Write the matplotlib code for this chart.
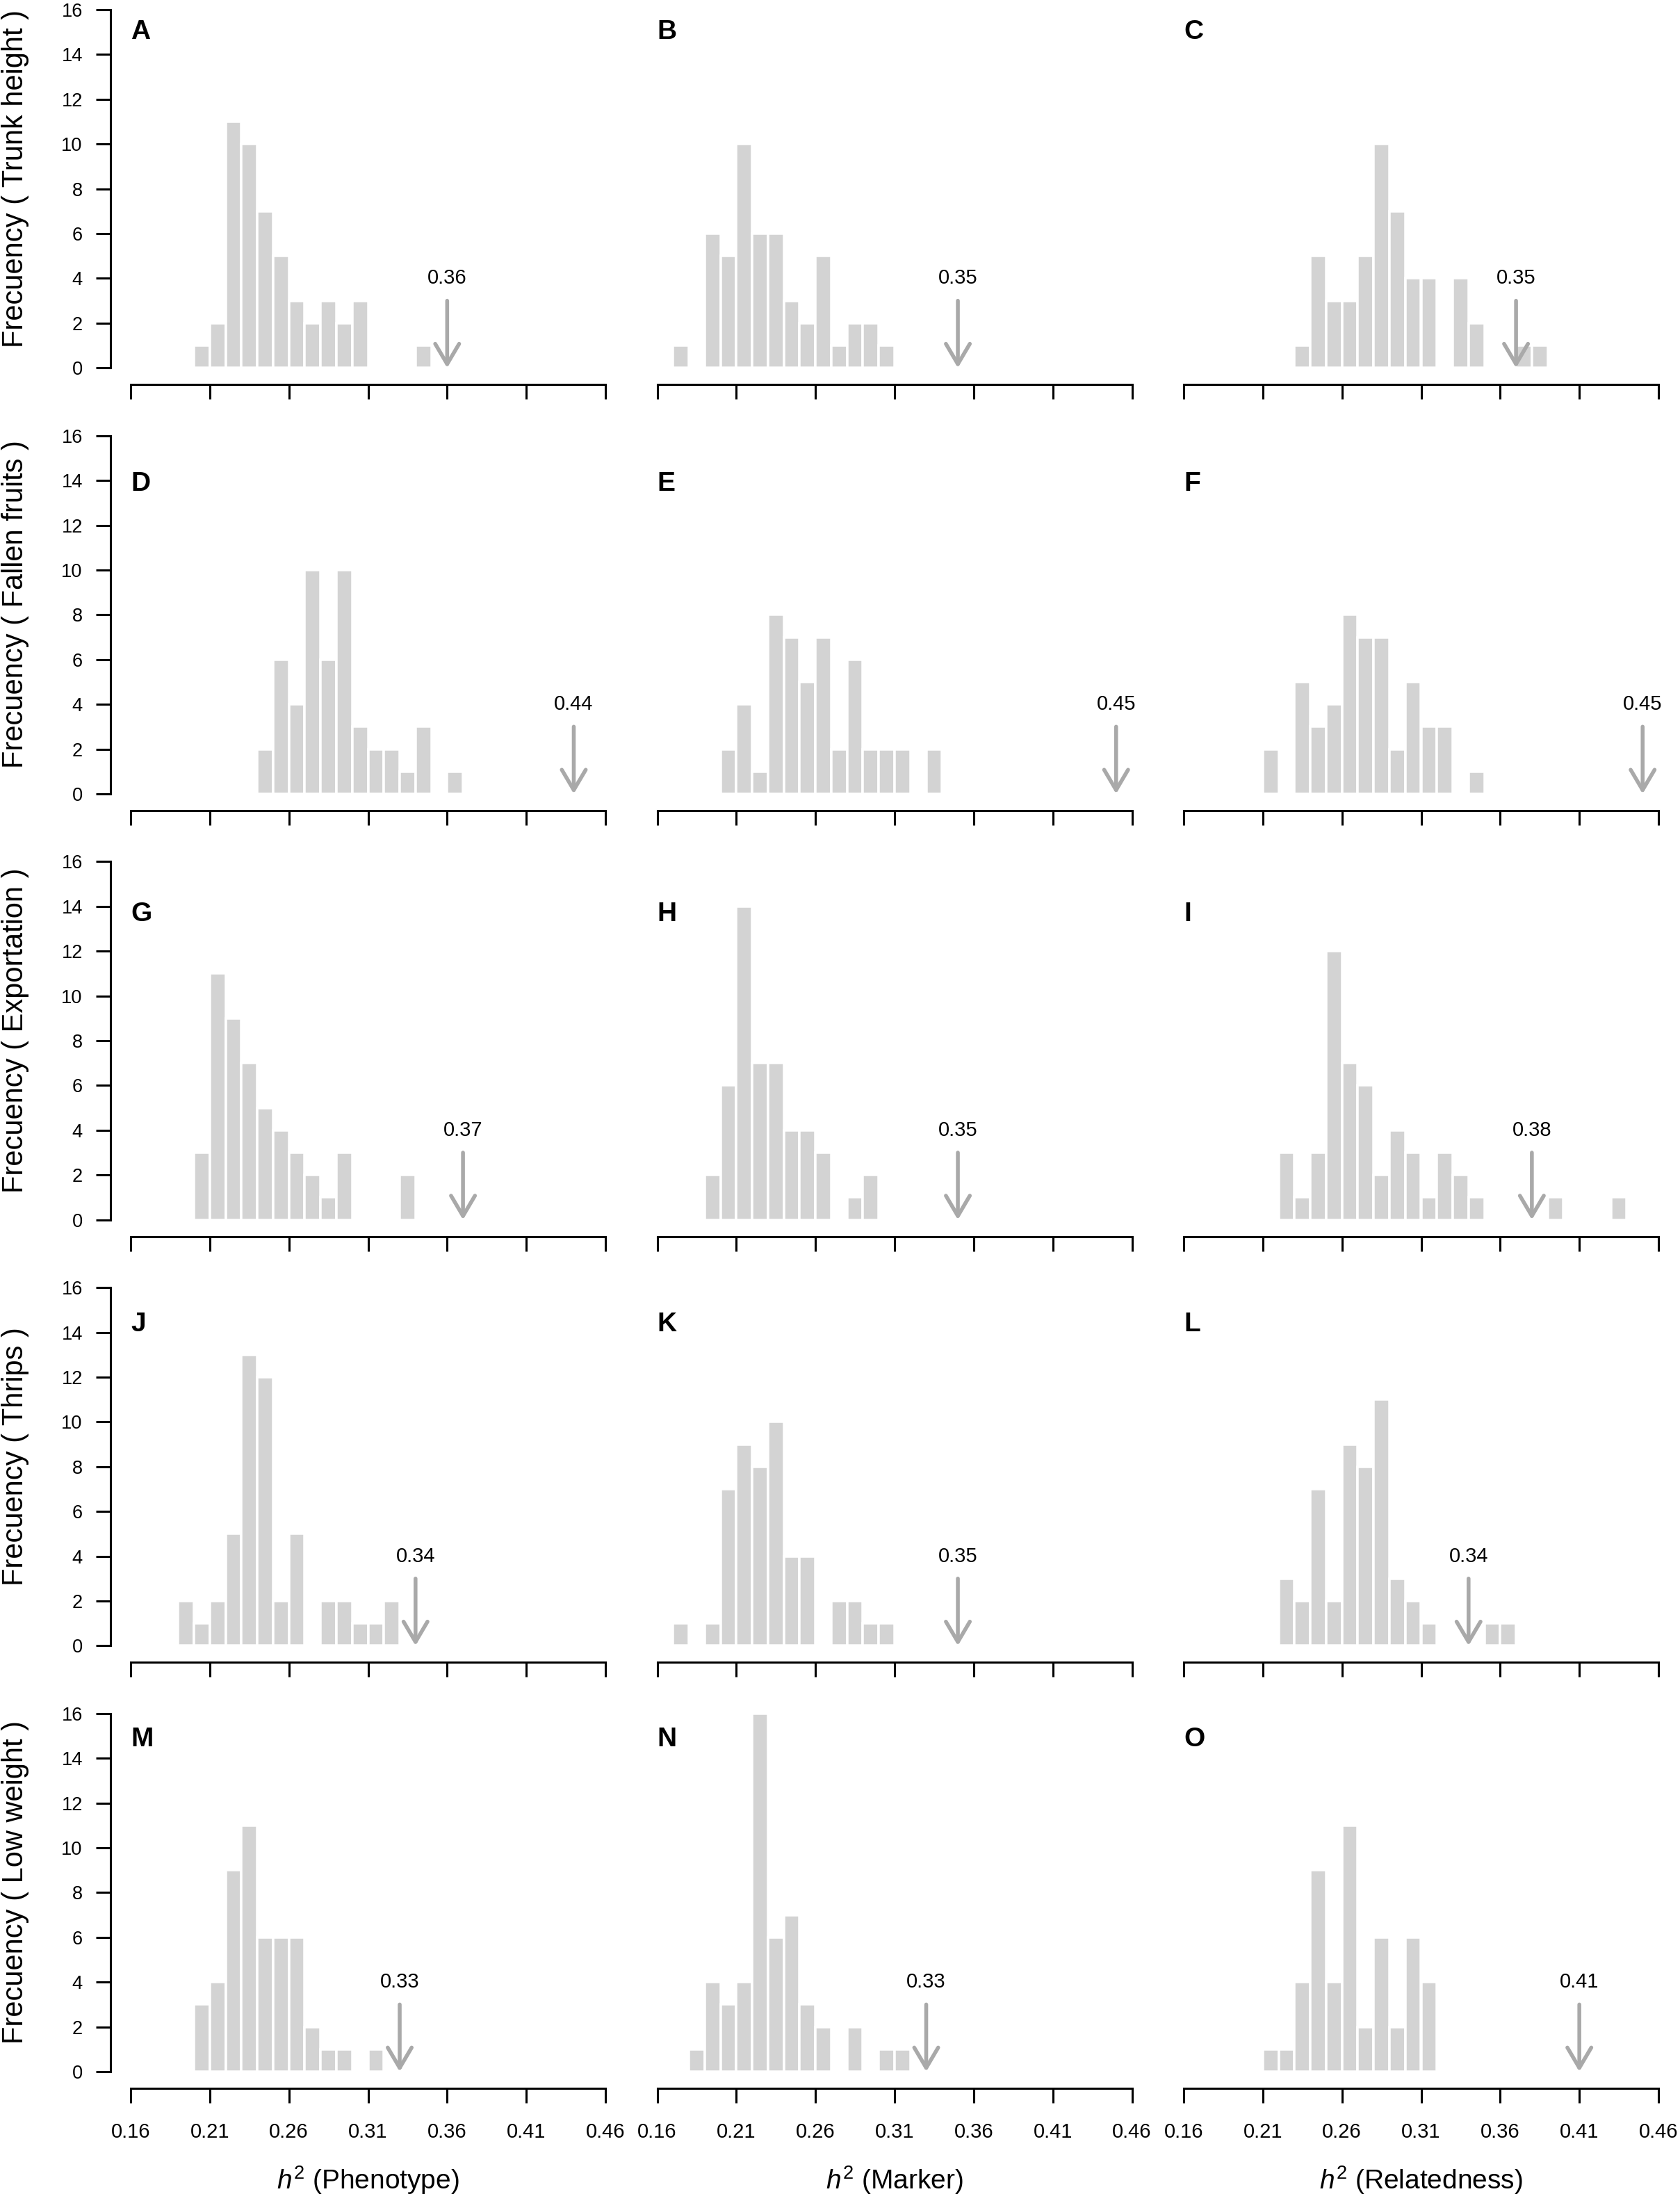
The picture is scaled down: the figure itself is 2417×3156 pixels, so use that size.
import numpy as np
import matplotlib
matplotlib.use("Agg")
import matplotlib.pyplot as plt

plt.rcParams['font.family'] = ['Liberation Sans', 'DejaVu Sans']
plt.rcParams['mathtext.fontset'] = 'custom'
plt.rcParams['mathtext.rm'] = 'Liberation Sans'
plt.rcParams['mathtext.it'] = 'Liberation Sans:italic'

# ---------------- data ----------------
traits = ['Trunk height', 'Fallen fruits', 'Exportation', 'Thrips', 'Low weight']
methods = ['Phenotype', 'Marker', 'Relatedness']
letters = ['A', 'B', 'C', 'D', 'E', 'F', 'G', 'H', 'I', 'J', 'K', 'L', 'M', 'N', 'O']
bin_width = 0.01

# first bin left edge for each panel (rows = traits, cols = methods)
bin_start = [[0.20, 0.17, 0.23],
             [0.24, 0.20, 0.21],
             [0.20, 0.19, 0.22],
             [0.19, 0.17, 0.22],
             [0.20, 0.18, 0.21]]

counts_A = [1, 2, 11, 10, 7, 5, 3, 2, 3, 2, 3, 0, 0, 0, 1]
counts_B = [1, 0, 6, 5, 10, 6, 6, 3, 2, 5, 1, 2, 2, 1]
counts_C = [1, 5, 3, 3, 5, 10, 7, 4, 4, 0, 4, 2, 0, 0, 1, 1]
counts_D = [2, 6, 4, 10, 6, 10, 3, 2, 2, 1, 3, 0, 1]
counts_E = [2, 4, 1, 8, 7, 5, 7, 2, 6, 2, 2, 2, 0, 2]
counts_F = [2, 0, 5, 3, 4, 8, 7, 7, 2, 5, 3, 3, 0, 1]
counts_G = [3, 11, 9, 7, 5, 4, 3, 2, 1, 3, 0, 0, 0, 2]
counts_H = [2, 6, 14, 7, 7, 4, 4, 3, 0, 1, 2]
counts_I = [3, 1, 3, 12, 7, 6, 2, 4, 3, 1, 3, 2, 1, 0, 0, 0, 0, 1, 0, 0, 0, 1]
counts_J = [2, 1, 2, 5, 13, 12, 2, 5, 0, 2, 2, 1, 1, 2]
counts_K = [1, 0, 1, 7, 9, 8, 10, 4, 4, 0, 2, 2, 1, 1]
counts_L = [3, 2, 7, 2, 9, 8, 11, 3, 2, 1, 0, 0, 0, 1, 1]
counts_M = [3, 4, 9, 11, 6, 6, 6, 2, 1, 1, 0, 1]
counts_N = [1, 4, 3, 4, 16, 6, 7, 3, 2, 0, 2, 0, 1, 1]
counts_O = [1, 1, 4, 9, 4, 11, 2, 6, 2, 6, 4]

counts = [[counts_A, counts_B, counts_C],
          [counts_D, counts_E, counts_F],
          [counts_G, counts_H, counts_I],
          [counts_J, counts_K, counts_L],
          [counts_M, counts_N, counts_O]]

# observed h2 (arrow position) and printed label
arrow_x = [[0.36, 0.35, 0.37],
           [0.44, 0.45, 0.45],
           [0.37, 0.35, 0.38],
           [0.34, 0.35, 0.34],
           [0.33, 0.33, 0.41]]
arrow_labels = [['0.36', '0.35', '0.35'],
                ['0.44', '0.45', '0.45'],
                ['0.37', '0.35', '0.38'],
                ['0.34', '0.35', '0.34'],
                ['0.33', '0.33', '0.41']]

letter_y = [15.0, 13.85, 13.65, 14.35, 14.85]

xticks = [0.16, 0.21, 0.26, 0.31, 0.36, 0.41, 0.46]
xtick_labels = ['0.16', '0.21', '0.26', '0.31', '0.36', '0.41', '0.46']
yticks = [0, 2, 4, 6, 8, 10, 12, 14, 16]

# ---------------- layout (pixels) ----------------
W, H = 2417, 3156
DPI = 200
fig = plt.figure(figsize=(W / DPI, H / DPI), dpi=DPI)

XLIM = (0.1474, 0.4726)
YLIM = (-0.75, 16.64)
px_per_x = 683 / 0.30
px_per_y = 32.2
ax_w = (XLIM[1] - XLIM[0]) * px_per_x
ax_h = (YLIM[1] - YLIM[0]) * px_per_y
col_x016 = [188, 945.5, 1703]
row_y16 = [14 + 612.7 * r for r in range(5)]

bar_color = '#D3D3D3'
arrow_color = '#A9A9A9'

for r in range(5):
    for c in range(3):
        left_px = col_x016[c] - (0.16 - XLIM[0]) * px_per_x
        top_px = row_y16[r] - (YLIM[1] - 16) * px_per_y
        bottom_px = top_px + ax_h
        ax = fig.add_axes([left_px / W, 1 - bottom_px / H, ax_w / W, ax_h / H])

        cnt = counts[r][c]
        edges = [round(bin_start[r][c] + bin_width * i, 2) for i in range(len(cnt))]
        e_nz = [e for e, v in zip(edges, cnt) if v > 0]
        v_nz = [v for v in cnt if v > 0]
        ax.bar(e_nz, v_nz, width=bin_width, align='edge', color=bar_color,
               edgecolor='white', linewidth=1.26, zorder=2)

        ax.set_xlim(*XLIM)
        ax.set_ylim(*YLIM)
        for s in ['top', 'right']:
            ax.spines[s].set_visible(False)
        ax.spines['bottom'].set_bounds(0.16, 0.46)
        ax.spines['bottom'].set_linewidth(1.1)
        ax.set_xticks(xticks)
        if r == 4:
            ax.set_xticklabels(xtick_labels, fontsize=10.5)
        else:
            ax.set_xticklabels([])
        ax.tick_params(axis='x', length=7.6, width=1.1, direction='out', pad=10)

        if c == 0:
            ax.spines['left'].set_bounds(0, 16)
            ax.spines['left'].set_linewidth(1.1)
            ax.set_yticks(yticks)
            ax.set_yticklabels([str(t) for t in yticks], fontsize=9.8)
            ax.tick_params(axis='y', length=7.6, width=1.1, direction='out', pad=7)
            ax.text(-0.1855, 0.53, 'Frecuency ( ' + traits[r] + ' )',
                    transform=ax.transAxes, rotation=90, ha='center', va='center',
                    fontsize=15)
        else:
            ax.spines['left'].set_visible(False)
            ax.set_yticks([])

        if r == 4:
            ax.text(0.5, -0.236, r'$h^2$ (' + methods[c] + ')', transform=ax.transAxes,
                    ha='center', va='center', fontsize=14)

        xa = arrow_x[r][c]
        ax.annotate('', xy=(xa, 0), xytext=(xa, 3),
                    arrowprops=dict(arrowstyle='->,head_length=10.5,head_width=6.2',
                                    mutation_scale=1, color=arrow_color, lw=2.0,
                                    shrinkA=0, shrinkB=0, capstyle='round',
                                    joinstyle='round'),
                    zorder=3)
        ax.text(xa, 4, arrow_labels[r][c], ha='center', va='center', fontsize=10.5)

        ax.text(0.16, letter_y[r], letters[r * 3 + c], ha='left', va='center',
                fontsize=14, fontweight='bold')

fig.savefig('out.png', dpi=DPI)
